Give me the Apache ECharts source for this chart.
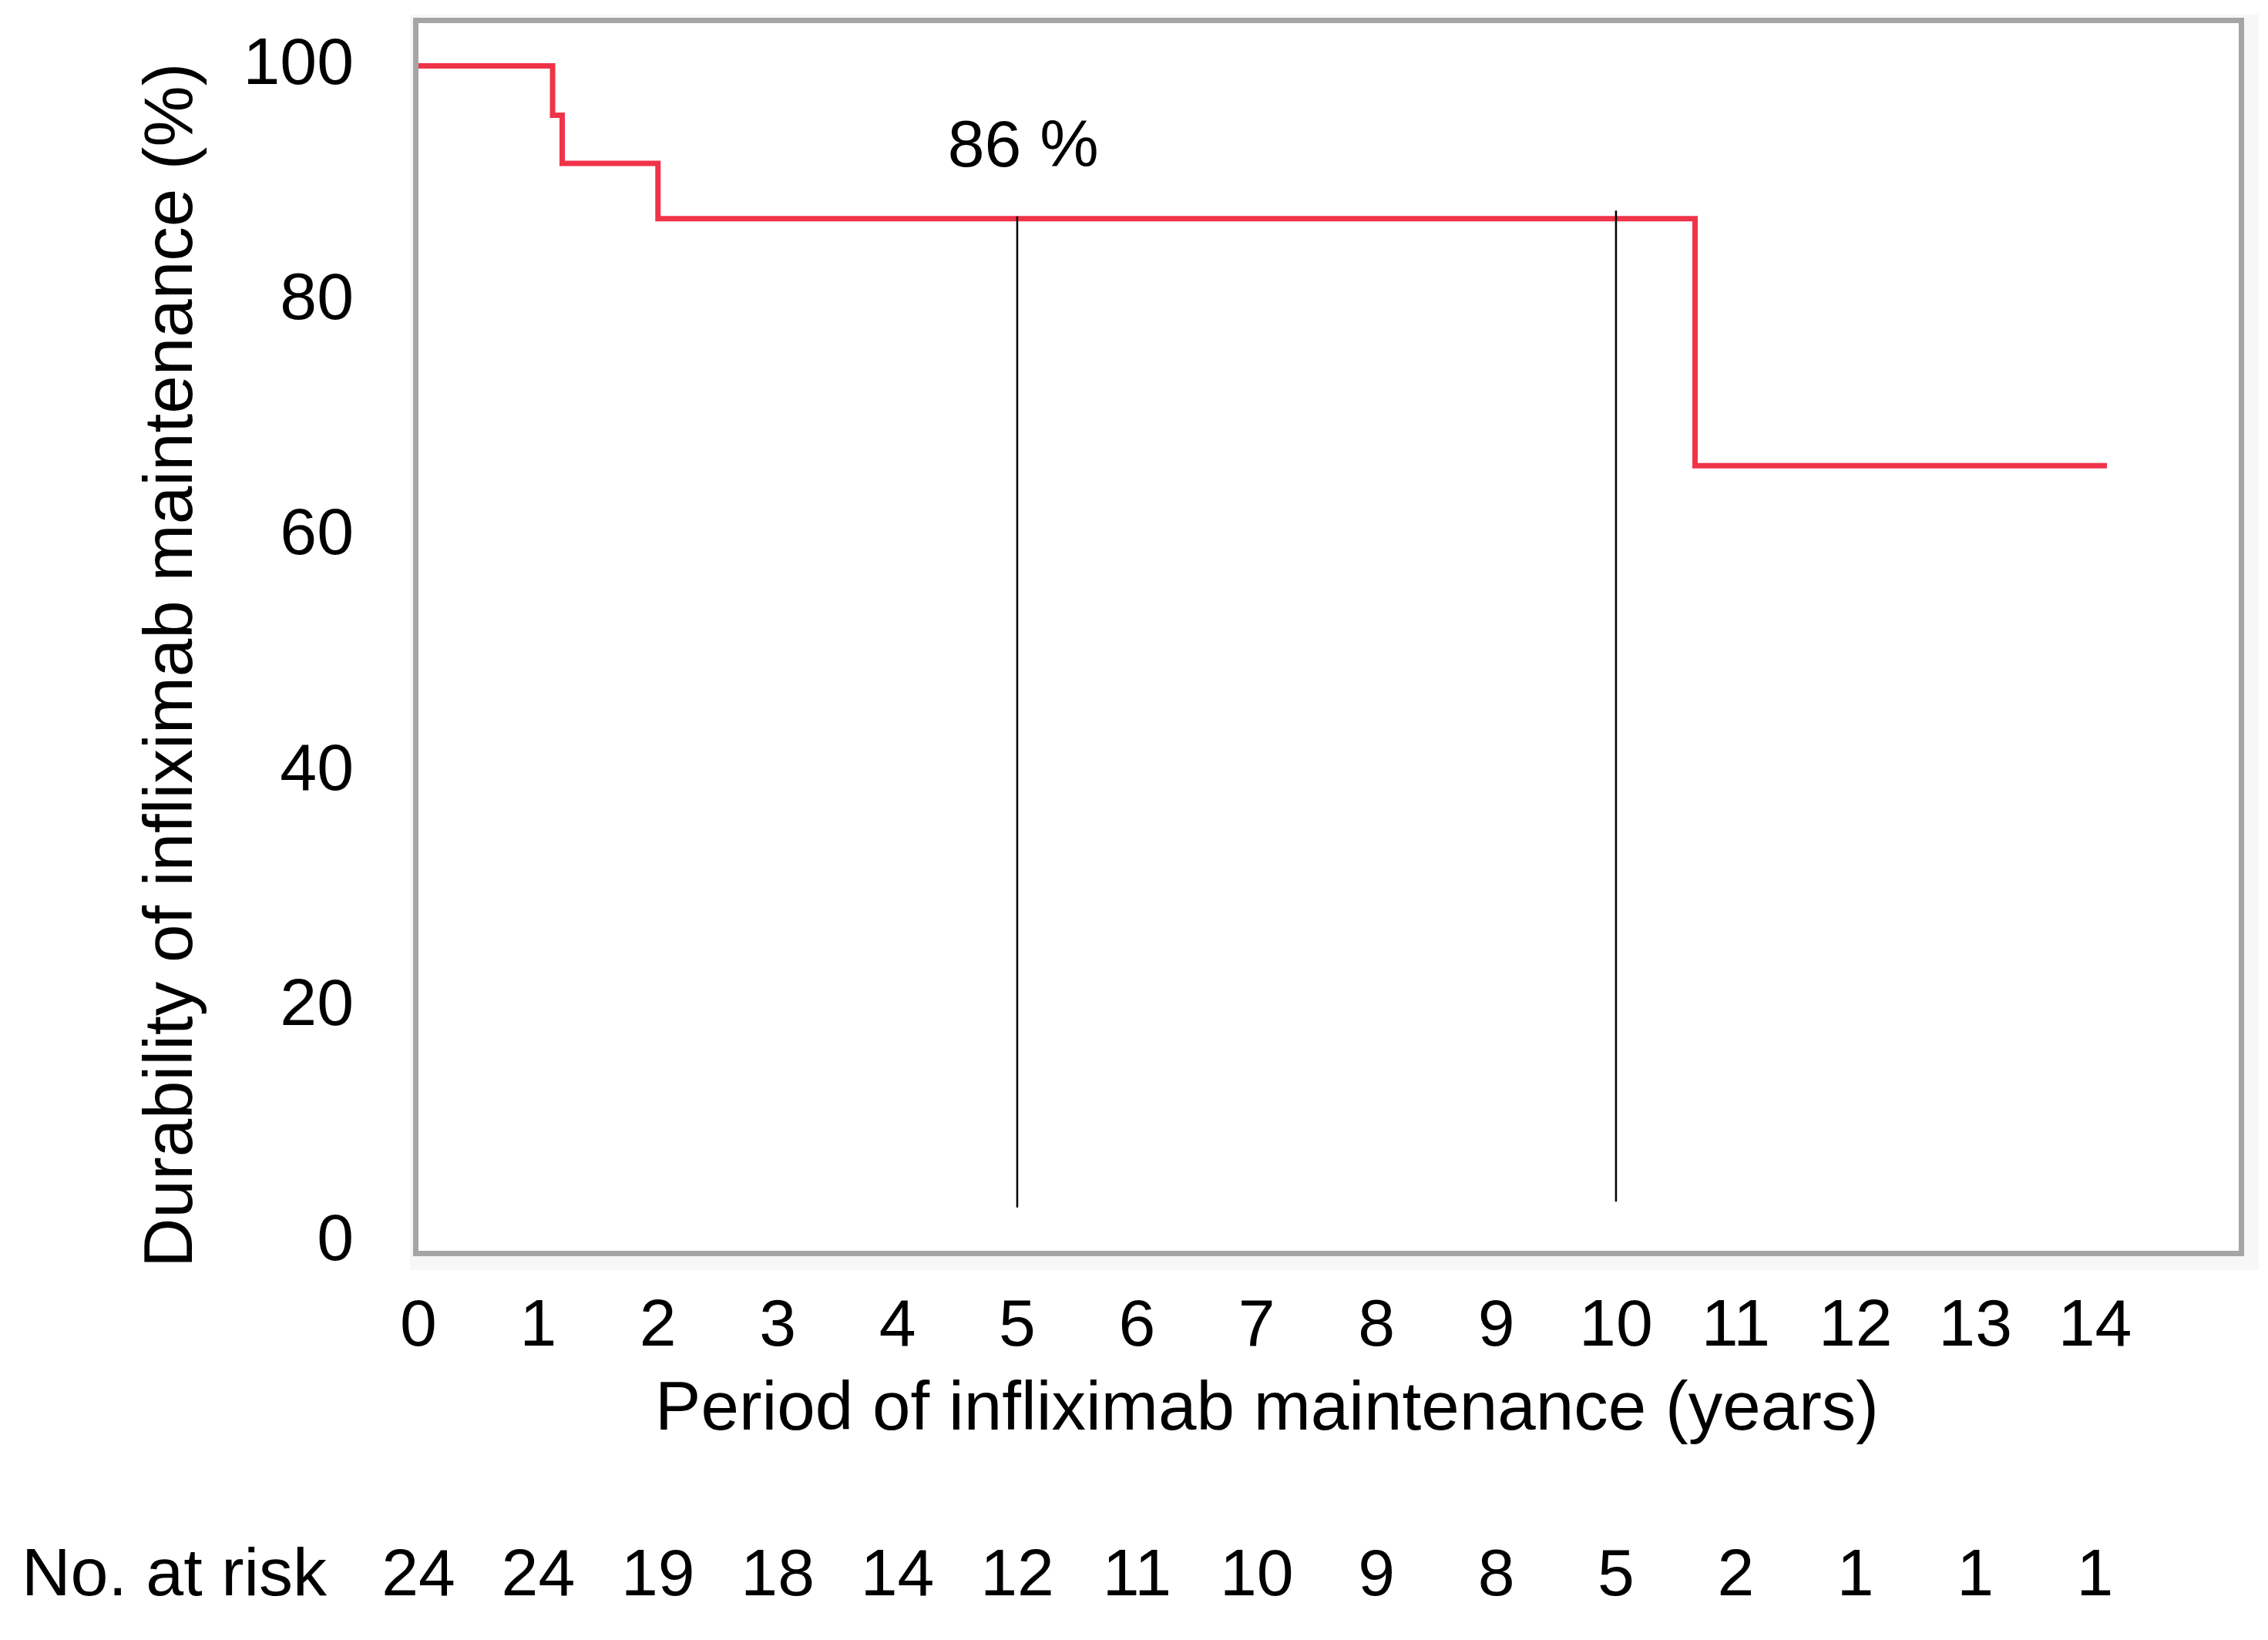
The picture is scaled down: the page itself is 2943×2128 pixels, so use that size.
<!DOCTYPE html>
<html>
<head>
<meta charset="utf-8">
<script src="https://cdn.jsdelivr.net/npm/echarts@6/dist/echarts.min.js"></script>
<style>
html, body { margin: 0; padding: 0; background: #ffffff; }
#chart { width: 2943px; height: 2128px; }
</style>
</head>
<body>
<div id="chart"></div>
<script>
// ---- data ----
var kmTimes = [0, 1.12, 1.2, 2.0, 10.66, 14.1];
var kmSurvival = [100, 95.8, 91.7, 87.0, 66.0, 66.0];
var xTickLabels = ['0','1','2','3','4','5','6','7','8','9','10','11','12','13','14'];
var atRisk = [24, 24, 19, 18, 14, 12, 11, 10, 9, 8, 5, 2, 1, 1, 1];
var refLine5 = [[5, 87.2], [5, 2.9]];
var refLine10 = [[10, 87.7], [10, 3.4]];
var annotationPoint = [5.05, 93.0];
var annotationText = '86 %';
var xTitle = 'Period of infliximab maintenance (years)';
var yTitle = 'Durability of infliximab maintenance (%)';
var atRiskTitle = 'No. at risk';

var kmData = kmTimes.map(function (t, i) { return [t, kmSurvival[i]]; });
var FONT = '"Liberation Sans", Arial, sans-serif';

var chart = echarts.init(document.getElementById('chart'), null, { renderer: 'canvas' });
chart.setOption({
  backgroundColor: '#ffffff',
  animation: false,
  grid: [
    { left: 532, top: 19, width: 2399, height: 1629, show: true, backgroundColor: '#f7f7f7', borderWidth: 0, z: 0 },
    { left: 539.5, top: 26.5, width: 2369, height: 1600, show: true, backgroundColor: '#ffffff', borderColor: '#a5a5a5', borderWidth: 7, z: 1 },
    { left: 543, top: 85.5, width: 2362, height: 1525.5, show: false }
  ],
  xAxis: [
    { gridIndex: 0, type: 'value', show: false, min: 0, max: 1 },
    { gridIndex: 1, type: 'value', show: false, min: 0, max: 1 },
    {
      gridIndex: 2, type: 'value', min: 0, max: 15.2, interval: 1,
      axisLine: { show: false }, axisTick: { show: false }, splitLine: { show: false },
      axisLabel: {
        show: true, margin: 111, verticalAlign: 'middle', showMaxLabel: false,
        fontFamily: FONT, fontSize: 86, color: '#000',
        formatter: function (v) { var l = xTickLabels[Math.round(v)]; return (l === undefined) ? '' : l; }
      },
      name: xTitle, nameLocation: 'middle', nameGap: 219,
      nameTextStyle: { fontFamily: FONT, fontSize: 89, color: '#000', verticalAlign: 'middle', padding: [0, 160, 0, 0] }
    },
    {
      gridIndex: 2, type: 'value', min: 0, max: 15.2, interval: 1, position: 'bottom', offset: 435,
      axisLine: { show: false }, axisTick: { show: false }, splitLine: { show: false },
      axisLabel: {
        show: true, margin: 0, verticalAlign: 'middle', showMaxLabel: false,
        fontFamily: FONT, fontSize: 86, color: '#000',
        formatter: function (v) { var n = atRisk[Math.round(v)]; return (n === undefined) ? '' : String(n); }
      },
      name: atRiskTitle, nameLocation: 'start', nameGap: 119,
      nameTextStyle: { fontFamily: FONT, fontSize: 88, color: '#000', align: 'right', verticalAlign: 'middle' }
    }
  ],
  yAxis: [
    { gridIndex: 0, type: 'value', show: false, min: 0, max: 1 },
    { gridIndex: 1, type: 'value', show: false, min: 0, max: 1 },
    {
      gridIndex: 2, type: 'value', min: 0, max: 100, interval: 20,
      axisLine: { show: false }, axisTick: { show: false }, splitLine: { show: false },
      axisLabel: { show: true, margin: 84, fontFamily: FONT, fontSize: 86, color: '#000' },
      name: yTitle, nameLocation: 'middle', nameGap: 319, nameRotate: 90,
      nameTextStyle: { fontFamily: FONT, fontSize: 89, color: '#000', verticalAlign: 'middle', padding: [0, 30, 0, 0] }
    }
  ],
  series: [
    {
      type: 'line', xAxisIndex: 2, yAxisIndex: 2, data: kmData, step: 'end',
      symbol: 'none', lineStyle: { color: '#ef3349', width: 7, cap: 'butt', join: 'miter' }, z: 5
    },
    {
      type: 'line', xAxisIndex: 2, yAxisIndex: 2, data: refLine5,
      symbol: 'none', lineStyle: { color: '#000', width: 2.5 }, z: 6
    },
    {
      type: 'line', xAxisIndex: 2, yAxisIndex: 2, data: refLine10,
      symbol: 'none', lineStyle: { color: '#000', width: 2.5 }, z: 6
    },
    {
      type: 'scatter', xAxisIndex: 2, yAxisIndex: 2, data: [annotationPoint],
      symbolSize: 0, silent: true, z: 7,
      itemStyle: { opacity: 1 },
      label: {
        show: true, position: 'inside', formatter: annotationText,
        fontFamily: FONT, fontSize: 86, color: '#000000', opacity: 1
      }
    }
  ]
});
</script>
</body>
</html>
